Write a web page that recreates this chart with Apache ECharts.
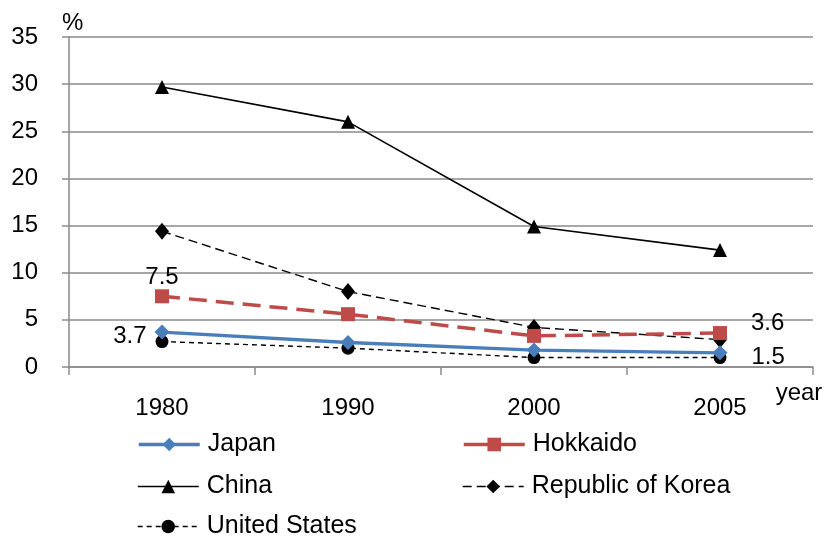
<!DOCTYPE html>
<html>
<head>
<meta charset="utf-8">
<script src="https://cdn.jsdelivr.net/npm/echarts@6/dist/echarts.min.js"></script>
<style>
html,body{margin:0;padding:0;background:#fff;}
#chart{width:829px;height:539px;}
</style>
</head>
<body>
<div id="chart"></div>
<script>
// data
var years = ['1980', '1990', '2000', '2005'];
var japan = [3.7, 2.6, 1.8, 1.5];
var hokkaido = [7.5, 5.6, 3.3, 3.6];
var china = [29.7, 26.0, 14.9, 12.4];
var korea = [14.4, 8.0, 4.2, 2.9];
var usa = [2.7, 2.0, 1.0, 1.0];
var yTicks = [0, 5, 10, 15, 20, 25, 30, 35];

var FONT = '"Liberation Sans", Arial, sans-serif';
var GRAY = '#8a8a8a';

// only a few points carry a value label
function withLabels(values, marks){
	return values.map(function(v, i){
		var m = marks[i];
		if(m){
			return {value: v, label: {show: true, position: m.pos, distance: m.dist, offset: m.off,
				formatter: function(p){ return p.value.toFixed(1); }}};
		}
		return v;
	});
}

var chart = echarts.init(document.getElementById('chart'));

var legendText = {fontFamily: FONT, fontSize: 25, color: '#000', padding: [0, 0, 0, 3]};

// one legend per item so the two columns sit where they do in the picture
function legendAt(name, left, top, line){
	return {
		orient: 'horizontal', left: left, top: top, padding: 0,
		itemWidth: 61, itemHeight: 17,
		lineStyle: line,
		textStyle: legendText, data: [name]
	};
}

var option = {
	backgroundColor: '#fff',
	animation: false,
	textStyle: {fontFamily: FONT},
	grid: {left: 69, right: 16, top: 37, bottom: 172},
	legend: [
		legendAt('Japan', 137, 432, {width: 3.5}),
		legendAt('China', 137, 474, {width: 1.6}),
		legendAt('United States', 137, 514, {width: 1.4}),
		legendAt('Hokkaido', 462, 432, {width: 3.5, type: 'solid'}),
		legendAt('Republic of Korea', 462, 474, {width: 1.4})
	],
	xAxis: {
		type: 'category',
		data: years,
		boundaryGap: true,
		name: 'year',
		nameLocation: 'end',
		nameGap: -14,
		nameTextStyle: {fontFamily: FONT, fontSize: 24, color: '#000', align: 'center', verticalAlign: 'top', padding: [14, 0, 0, 0]},
		axisLine: {lineStyle: {color: GRAY, width: 1.5}},
		axisTick: {show: true, length: 8, lineStyle: {color: GRAY, width: 1.5}},
		axisLabel: {fontFamily: FONT, fontSize: 24, color: '#000', margin: 29}
	},
	yAxis: {
		type: 'value',
		min: yTicks[0],
		max: yTicks[yTicks.length - 1],
		interval: 5,
		name: '%',
		nameLocation: 'end',
		nameGap: 2,
		nameTextStyle: {fontFamily: FONT, fontSize: 24, color: '#000', align: 'left', padding: [0, 0, 0, -7]},
		axisLine: {show: true, lineStyle: {color: GRAY, width: 1.5}},
		axisTick: {show: true, length: 7, lineStyle: {color: GRAY, width: 1.5}},
		axisLabel: {fontFamily: FONT, fontSize: 24, color: '#000', margin: 31},
		splitLine: {lineStyle: {color: GRAY, width: 1.5}}
	},
	series: [
		{
			name: 'Japan', type: 'line', z: 5,
			data: withLabels(japan, [{pos: 'left', dist: 8, off: [0, 4]}, null, null, {pos: 'right', dist: 24, off: [0, 5]}]),
			symbol: 'diamond', symbolSize: [15, 15],
			lineStyle: {color: '#4a7ebb', width: 3.3},
			itemStyle: {color: '#4a7ebb'},
			label: {fontFamily: FONT, fontSize: 24, color: '#000'}
		},
		{
			name: 'Hokkaido', type: 'line', z: 4,
			data: withLabels(hokkaido, [{pos: 'top', dist: 0, off: [0, 0]}, null, null, {pos: 'right', dist: 24, off: [0, -10]}]),
			symbol: 'rect', symbolSize: 14,
			lineStyle: {color: '#be4b48', width: 3.5, type: [18, 9]},
			itemStyle: {color: '#be4b48'},
			label: {fontFamily: FONT, fontSize: 24, color: '#000'}
		},
		{
			name: 'China', type: 'line', z: 3,
			data: china,
			symbol: 'triangle', symbolSize: 14,
			lineStyle: {color: '#000', width: 1.6},
			itemStyle: {color: '#000'}
		},
		{
			name: 'Republic of Korea', type: 'line', z: 3,
			data: korea,
			symbol: 'diamond', symbolSize: [14, 17],
			lineStyle: {color: '#000', width: 1.4, type: [9, 5]},
			itemStyle: {color: '#000'}
		},
		{
			name: 'United States', type: 'line', z: 3,
			data: usa,
			symbol: 'circle', symbolSize: 13,
			lineStyle: {color: '#000', width: 1.4, type: [5, 4]},
			itemStyle: {color: '#000'}
		}
	]
};

chart.setOption(option);
</script>
</body>
</html>
